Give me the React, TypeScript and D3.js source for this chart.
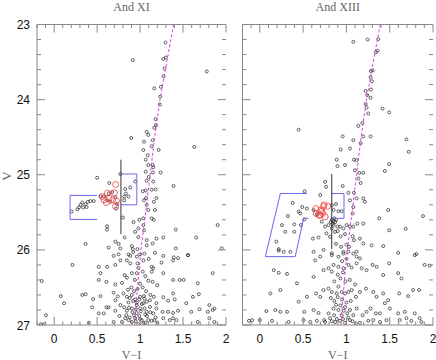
import React from "react";
import * as d3 from "d3";

// colour (V-I), magnitude (V)
const andXIStars: [number, number][] = [
  [0.916, 23.475], [1.296, 23.24], [1.27, 23.46], [1.3, 23.44], [1.285, 23.585], [1.273, 23.69], [1.776, 23.625],
  [1.165, 23.85], [1.242, 23.83], [1.234, 23.96], [1.23, 24.065], [1.181, 24.26], [1.185, 24.34], [1.165, 24.375],
  [0.896, 24.51], [1.077, 24.43], [1.096, 24.47], [1.046, 24.56], [1.146, 24.54], [1.135, 24.62], [1.038, 24.67],
  [1.216, 24.67], [1.63, 24.63], [1.089, 24.74], [1.066, 24.8], [1.096, 24.87], [1.146, 24.87], [1.153, 24.9],
  [1.066, 24.96], [1.239, 24.97], [1.15, 24.97], [0.5, 25.04], [0.77, 24.99], [1.1, 25.03], [1.153, 25.09],
  [1.077, 25.08], [0.642, 25.11], [0.942, 25.09], [0.885, 25.17], [0.827, 25.19], [0.835, 25.25], [1.031, 25.22],
  [1.066, 25.21], [1.135, 25.2], [1.181, 25.195], [1.389, 25.15],
  [0.204, 25.49], [0.27, 25.46], [0.308, 25.4], [0.327, 25.37], [0.366, 25.39], [0.392, 25.36], [0.423, 25.35],
  [0.377, 25.43], [0.289, 25.435], [0.339, 25.435], [0.461, 25.35], [0.539, 25.285], [0.577, 25.29], [0.616, 25.34],
  [0.654, 25.36], [0.634, 25.25], [0.674, 25.23], [0.712, 25.3], [0.73, 25.39], [0.72, 25.45],
  [0.815, 25.29], [0.815, 25.34], [0.865, 25.29], [1.046, 25.34], [1.069, 25.31], [1.19, 25.31], [1.16, 25.36],
  [1.077, 25.4], [1.096, 25.47], [1.173, 25.47], [0.8, 25.57], [0.923, 25.63], [0.992, 25.6], [1.038, 25.58],
  [1.135, 25.58], [1.16, 25.6], [0.616, 25.685], [0.616, 25.73], [0.98, 25.715], [1.038, 25.67], [1.046, 25.74],
  [1.415, 25.73], [0.82, 25.835], [0.942, 25.76], [0.98, 25.83], [1.077, 25.87], [1.19, 25.85], [1.27, 25.835],
  [1.654, 25.835], [1.903, 25.67], [1.95, 25.98], [0.366, 25.92], [0.712, 25.89], [0.75, 25.92], [0.77, 25.98],
  [0.634, 25.97], [0.904, 25.95], [0.916, 25.99], [0.969, 25.99], [1.077, 25.94], [1.146, 25.915], [1.173, 26.04],
  [1.415, 25.98], [1.392, 26.1], [1.27, 26.08], [1.557, 26.07], [1.442, 26.11], [0.692, 26.08], [0.75, 26.06],
  [0.865, 26.06], [0.885, 26.08], [0.962, 26.09], [1.0, 26.06],
  [0.212, 26.2], [0.519, 26.225], [0.616, 26.225], [0.712, 26.2], [0.77, 26.14], [0.846, 26.14], [0.885, 26.18],
  [0.969, 26.18], [1.038, 26.14], [1.135, 26.225], [1.153, 26.245], [1.25, 26.17], [1.384, 26.14], [1.557, 26.07],
  [-0.145, 26.415], [0.539, 26.31], [0.519, 26.4], [0.608, 26.425], [0.712, 26.46], [0.82, 26.335], [0.846, 26.37],
  [0.904, 26.31], [0.962, 26.31], [1.031, 26.29], [1.135, 26.29], [1.096, 26.41], [1.146, 26.425], [1.27, 26.31],
  [1.384, 26.4], [1.461, 26.4], [1.507, 26.4], [1.672, 26.445], [1.845, 26.31],
  [0.077, 26.615], [0.115, 26.71], [0.327, 26.6], [0.366, 26.59], [0.454, 26.655], [0.539, 26.615], [0.692, 26.57],
  [0.712, 26.67], [0.807, 26.58], [0.846, 26.625], [0.865, 26.7], [0.904, 26.6], [0.942, 26.66], [0.962, 26.7],
  [1.0, 26.625], [1.046, 26.615], [1.077, 26.69], [1.115, 26.67], [1.16, 26.625], [1.19, 26.71], [1.27, 26.63],
  [1.326, 26.675], [1.384, 26.58], [1.403, 26.66], [1.538, 26.71], [1.615, 26.625], [1.684, 26.59], [1.807, 26.735],
  [1.865, 26.78],
  [-0.096, 26.87], [0.443, 26.765], [0.519, 26.845], [0.577, 26.845], [0.608, 26.765], [0.634, 26.765],
  [0.712, 26.81], [0.77, 26.735], [0.815, 26.765], [0.846, 26.81], [0.904, 26.78], [0.962, 26.735], [1.0, 26.78],
  [1.038, 26.71], [1.077, 26.825], [1.115, 26.76], [1.153, 26.845], [1.19, 26.78], [1.262, 26.825], [1.326, 26.825],
  [1.384, 26.84], [1.442, 26.81], [1.596, 26.825], [1.692, 26.79], [1.788, 26.825], [1.845, 26.8],
  [-0.154, 26.99], [-0.115, 26.99], [0.404, 26.97], [0.692, 26.96], [0.789, 26.96], [0.827, 26.91], [0.865, 26.935],
  [0.904, 26.96], [0.942, 26.91], [1.02, 26.935], [1.038, 26.98], [1.096, 26.935], [1.135, 26.945], [1.165, 26.935],
  [1.27, 26.91], [1.346, 26.935], [1.384, 26.91], [1.423, 26.935], [1.672, 26.96], [1.807, 26.91], [1.865, 26.96],
  [0.93, 26.87], [0.96, 26.84], [0.99, 26.88], [1.01, 26.82], [0.95, 26.95], [0.98, 26.99], [1.06, 26.97],
  // dense lower giant branch
  [0.86, 26.53], [0.9, 26.5], [0.93, 26.55], [0.97, 26.52], [1.03, 26.5], [1.07, 26.55], [0.88, 26.64],
  [0.92, 26.68], [0.99, 26.66], [1.02, 26.72], [1.05, 26.65], [1.12, 26.6], [0.87, 26.77], [0.91, 26.83],
  [0.95, 26.79], [1.05, 26.78], [1.08, 26.88], [1.12, 26.83], [1.18, 26.9], [0.84, 26.87], [0.88, 26.9],
  [1.0, 26.92], [1.06, 26.86], [1.2, 26.97], [0.76, 26.88], [0.74, 26.62], [0.79, 26.44], [0.94, 26.4],
  [1.0, 26.45], [1.06, 26.35], [1.2, 26.47], [0.98, 26.24], [0.92, 26.03], [1.05, 26.05], [1.1, 26.12],
];

const andXIRed: [number, number][] = [
  [0.715, 25.13], [0.7, 25.24], [0.62, 25.245], [0.56, 25.29], [0.607, 25.37],
  [0.68, 25.335], [0.725, 25.35], [0.715, 25.42], [0.64, 25.31], [0.58, 25.335],
];

const andXIIIStars: [number, number][] = [
  [1.08, 23.23], [1.245, 23.2], [1.368, 23.195], [1.36, 23.35], [1.34, 23.37], [1.302, 23.61], [1.283, 23.62],
  [1.279, 23.7], [1.294, 23.755], [1.283, 23.865], [1.222, 23.885], [1.241, 23.94], [1.279, 23.975], [1.222, 24.06],
  [1.233, 24.105], [1.253, 24.185], [1.417, 24.12], [1.494, 24.17], [1.184, 24.31], [1.138, 24.35], [0.448, 24.4],
  [0.957, 24.49], [1.08, 24.54], [1.195, 24.49], [1.279, 24.49], [1.164, 24.58], [1.693, 24.53], [0.934, 24.665],
  [1.041, 24.65], [1.72, 24.695], [0.888, 24.8], [1.087, 24.8], [1.118, 24.805], [1.494, 24.86], [0.896, 24.885],
  [0.984, 24.87], [1.099, 24.94], [1.149, 24.975], [1.195, 24.975], [1.444, 24.95], [1.138, 25.05], [1.164, 25.11],
  [0.754, 25.095], [0.766, 25.16], [0.957, 25.15], [0.517, 25.22], [0.697, 25.27], [1.023, 25.24], [1.087, 25.24],
  [1.118, 25.315], [1.195, 25.315], [1.214, 25.36], [0.379, 25.375], [0.49, 25.43], [0.544, 25.45], [0.448, 25.49],
  [0.621, 25.47], [0.659, 25.525], [0.831, 25.405], [0.88, 25.39], [0.851, 25.47], [0.908, 25.485], [0.946, 25.485],
  [1.041, 25.34], [1.08, 25.43], [1.072, 25.515], [1.379, 25.58], [1.483, 25.47], [1.885, 25.55],
  [0.325, 25.55], [0.256, 25.67], [0.398, 25.66], [0.294, 25.76], [0.191, 25.89], [0.218, 25.99], [0.398, 25.76],
  [0.467, 25.515], [0.513, 25.595], [0.475, 25.67],
  [0.83, 25.6], [0.85, 25.62], [0.86, 25.58], [0.84, 25.65], [0.87, 25.63], [0.88, 25.6], [0.85, 25.67], [0.82, 25.63],
  [0.716, 25.625], [0.754, 25.69], [0.793, 25.67], [0.831, 25.715], [0.896, 25.69], [0.926, 25.69], [0.966, 25.715],
  [1.003, 25.67], [1.041, 25.69], [1.08, 25.69], [1.126, 25.65], [1.195, 25.65],
  [0.613, 25.85], [0.678, 25.835], [0.811, 25.825], [0.869, 25.76], [0.934, 25.82], [0.984, 25.79], [1.072, 25.82],
  [1.087, 25.87], [1.156, 25.85], [1.195, 25.915], [1.291, 25.94], [1.425, 25.95], [1.494, 25.74], [1.685, 25.72],
  [0.621, 26.025], [0.736, 26.0], [0.831, 26.045], [0.938, 25.96], [0.966, 26.025], [1.118, 26.025], [1.598, 26.04],
  [1.808, 26.055], [0.218, 26.01], [0.276, 26.025], [0.352, 26.025],
  [0.639, 26.14], [0.697, 26.09], [0.831, 26.07], [0.908, 26.09], [0.966, 26.05], [1.023, 26.025], [1.08, 26.05],
  [1.118, 26.09], [1.156, 26.115], [1.789, 26.07], [1.904, 26.2], [1.961, 26.21],
  [0.161, 26.27], [0.218, 26.305], [0.314, 26.32], [0.429, 26.445], [0.621, 26.36], [0.736, 26.27], [0.793, 26.245],
  [0.831, 26.29], [0.851, 26.2], [0.908, 26.225], [0.966, 26.245], [1.023, 26.2], [1.061, 26.235], [1.118, 26.18],
  [1.176, 26.245], [1.233, 26.27], [1.302, 26.2], [1.348, 26.225], [1.425, 26.335], [1.494, 26.18], [1.598, 26.31],
  [1.636, 26.38],
  [0.122, 26.58], [0.237, 26.535], [0.448, 26.69], [0.544, 26.625], [0.651, 26.58], [0.697, 26.625], [0.736, 26.535],
  [0.793, 26.515], [0.831, 26.56], [0.888, 26.58], [0.908, 26.49], [0.946, 26.56], [0.984, 26.58], [1.023, 26.56],
  [1.061, 26.535], [1.11, 26.625], [1.156, 26.56], [1.226, 26.515], [1.31, 26.56], [1.348, 26.625], [1.425, 26.58],
  [1.483, 26.67], [1.609, 26.58], [1.713, 26.615], [1.77, 26.535], [1.839, 26.535],
  [0.076, 26.815], [0.179, 26.8], [0.237, 26.825], [0.314, 26.825], [0.513, 26.825], [0.621, 26.8], [0.678, 26.84],
  [0.743, 26.935], [0.793, 26.845], [0.851, 26.78], [0.858, 26.87], [0.908, 26.8], [0.946, 26.87], [0.984, 26.76],
  [1.011, 26.845], [1.041, 26.8], [1.08, 26.87], [1.118, 26.78], [1.187, 26.87], [1.233, 26.825], [1.279, 26.78],
  [1.34, 26.845], [1.387, 26.845], [1.444, 26.71], [1.502, 26.78], [1.598, 26.845], [1.674, 26.825], [1.789, 26.845],
  [1.846, 26.91],
  [-0.126, 26.945], [-0.089, 26.935], [0.0, 26.935], [0.141, 26.945], [0.333, 26.96], [0.506, 26.935], [0.582, 26.96],
  [0.659, 26.945], [0.754, 26.96], [0.811, 26.91], [0.869, 26.96], [0.926, 26.945], [0.984, 26.97], [1.041, 26.935],
  [1.11, 26.98], [1.156, 26.97], [1.253, 26.945], [1.31, 26.935], [1.387, 26.96], [1.463, 26.935], [1.616, 26.935],
  [1.693, 26.91], [1.75, 26.945], [1.866, 26.96],
  // dense lower giant branch
  [0.82, 26.64], [0.86, 26.68], [0.9, 26.63], [0.95, 26.66], [1.0, 26.7], [1.05, 26.68], [0.88, 26.73],
  [0.93, 26.74], [0.97, 26.81], [1.02, 26.9], [0.89, 26.92], [0.83, 26.95], [0.96, 26.92], [1.07, 26.95],
  [0.86, 26.42], [0.93, 26.38], [0.99, 26.42], [1.04, 26.4], [0.9, 26.33], [1.1, 26.46], [0.95, 26.15],
  [1.0, 26.12], [0.88, 25.92], [1.0, 25.93], [0.77, 25.78], [0.9, 25.75], [1.03, 25.96], [0.96, 26.3],
];

const andXIIIRed: [number, number][] = [
  [0.651, 25.515], [0.736, 25.42], [0.785, 25.42], [0.716, 25.485], [0.697, 25.54], [0.754, 25.56],
  [0.647, 25.45], [0.705, 25.47], [0.743, 25.4], [0.724, 25.515], [0.685, 25.54],
];

// fiducial ridge line
const ridgeV = [23, 23.5, 24, 24.5, 25, 25.5, 26, 26.5, 27];
const ridgeColor = [1.39, 1.31, 1.232, 1.17, 1.117, 1.065, 1.01, 0.97, 0.937];

// selection boxes
const andXIBlue: [number, number][][] = [
  [[0.5, 25.275], [0.185, 25.275], [0.185, 25.595], [0.5, 25.595]],
  [[0.777, 24.99], [0.962, 24.99], [0.962, 25.4], [0.777, 25.4]],
];
const andXIBlack: [number, number][] = [[0.777, 24.8], [0.777, 25.79]];
const andXIIIBlue: [number, number][][] = [
  [[0.544, 25.25], [0.237, 25.25], [0.064, 26.09], [0.409, 26.09], [0.506, 25.58], [0.563, 25.58]],
  [[0.831, 25.25], [0.972, 25.25], [0.972, 25.58], [0.831, 25.58]],
];
const andXIIIBlack: [number, number][] = [[0.831, 24.99], [0.831, 25.99]];

const xTickLabels = ["0", "0.5", "1", "1.5", "2"];
const yTickLabels = ["23", "24", "25", "26", "27"];

const Y0 = 24.5;
const Y1 = 325;
const frameColor = "#888";

type PanelProps = {
  x0: number;
  x1: number;
  title: string;
  stars: [number, number][];
  red: [number, number][];
  blue: [number, number][][];
  black: [number, number][];
  yLabels: boolean;
};

const Panel = ({ x0, x1, title, stars, red, blue, black, yLabels }: PanelProps) => {
  const x = d3.scaleLinear().domain([-0.2, 2]).range([x0, x1]);
  const y = d3.scaleLinear().domain([23, 27]).range([Y0, Y1]);
  const path = d3
    .line<[number, number]>()
    .x((d) => x(d[0]))
    .y((d) => y(d[1]));
  const ridge: [number, number][] = ridgeV.map((v, i) => [ridgeColor[i], v]);

  const xTicks = d3.range(-2, 21).map((i) => ({ v: i / 10, major: i % 5 === 0 }));
  const yTicks = d3.range(115, 136).map((i) => ({ v: i / 5, major: i % 5 === 0 }));
  const clipId = `clip-${title.replace(/\s/g, "")}`;

  return (
    <g>
      <defs>
        <clipPath id={clipId}>
          <rect x={x0} y={Y0} width={x1 - x0} height={Y1 - Y0} />
        </clipPath>
      </defs>
      <g clipPath={`url(#${clipId})`}>
        {stars.map((d, i) => (
          <circle key={i} cx={x(d[0])} cy={y(d[1])} r={1.5} fill="none" stroke="#222" strokeWidth={0.7} />
        ))}
        <path d={path(ridge) || ""} fill="none" stroke="#e040e0" strokeWidth={1} strokeDasharray="3,2" />
        {blue.map((b, i) => (
          <path key={i} d={path(b) || ""} fill="none" stroke="#6a6af0" strokeWidth={1} />
        ))}
        <path d={path(black) || ""} fill="none" stroke="#333" strokeWidth={1} />
        {red.map((d, i) => (
          <circle key={i} cx={x(d[0])} cy={y(d[1])} r={3} fill="none" stroke="#f04040" strokeWidth={0.8} />
        ))}
      </g>
      {/* frame */}
      <line x1={x0} x2={x1} y1={Y0} y2={Y0} stroke={frameColor} />
      <line x1={x0} x2={x1} y1={Y1} y2={Y1} stroke={frameColor} />
      <line x1={x0} x2={x0} y1={Y0} y2={Y1} stroke={frameColor} />
      {xTicks.map((t, i) => {
        const len = t.major ? 8 : 3.5;
        return (
          <g key={i} stroke={frameColor}>
            <line x1={x(t.v)} x2={x(t.v)} y1={Y0} y2={Y0 + len} />
            <line x1={x(t.v)} x2={x(t.v)} y1={Y1} y2={Y1 - len} />
          </g>
        );
      })}
      {yTicks.map((t, i) => {
        const len = t.major ? 8 : 4;
        return (
          <g key={i} stroke={frameColor}>
            <line x1={x0} x2={x0 + len} y1={y(t.v)} y2={y(t.v)} />
            <line x1={x1} x2={x1 - len} y1={y(t.v)} y2={y(t.v)} />
          </g>
        );
      })}
      {xTickLabels.map((l) => (
        <text
          key={l}
          x={x(+l)}
          y={343}
          textAnchor="middle"
          fontFamily="Liberation Sans, Arial, sans-serif"
          fontSize={12}
          fill="#111"
        >
          {l}
        </text>
      ))}
      {yLabels &&
        yTickLabels.map((l) => (
          <text
            key={l}
            x={x0 - 7}
            y={y(+l) + 4.5}
            textAnchor="end"
            fontFamily="Liberation Sans, Arial, sans-serif"
            fontSize={12}
            fill="#111"
          >
            {l}
          </text>
        ))}
      <text
        x={(x0 + x1) / 2}
        y={11}
        textAnchor="middle"
        fontFamily="Liberation Serif, Times New Roman, serif"
        fontSize={12}
        fill="#666"
      >
        {title}
      </text>
      <text
        x={(x0 + x1) / 2}
        y={358.5}
        textAnchor="middle"
        fontFamily="Liberation Serif, Times New Roman, serif"
        fontSize={12}
        fill="#666"
      >
        V−I
      </text>
    </g>
  );
};

export default function App() {
  return (
    <svg
      width={436}
      height={360}
      style={{ position: "absolute", left: 0, top: 0, background: "#fff" }}
    >
      <text
        transform="translate(11,176) rotate(-90)"
        textAnchor="middle"
        fontFamily="Liberation Serif, Times New Roman, serif"
        fontSize={13}
        fill="#666"
      >
        V
      </text>
      <Panel
        x0={37}
        x1={226}
        title="And XI"
        stars={andXIStars}
        red={andXIRed}
        blue={andXIBlue}
        black={andXIBlack}
        yLabels
      />
      <Panel
        x0={242.5}
        x1={433}
        title="And XIII"
        stars={andXIIIStars}
        red={andXIIIRed}
        blue={andXIIIBlue}
        black={andXIIIBlack}
        yLabels={false}
      />
    </svg>
  );
}
